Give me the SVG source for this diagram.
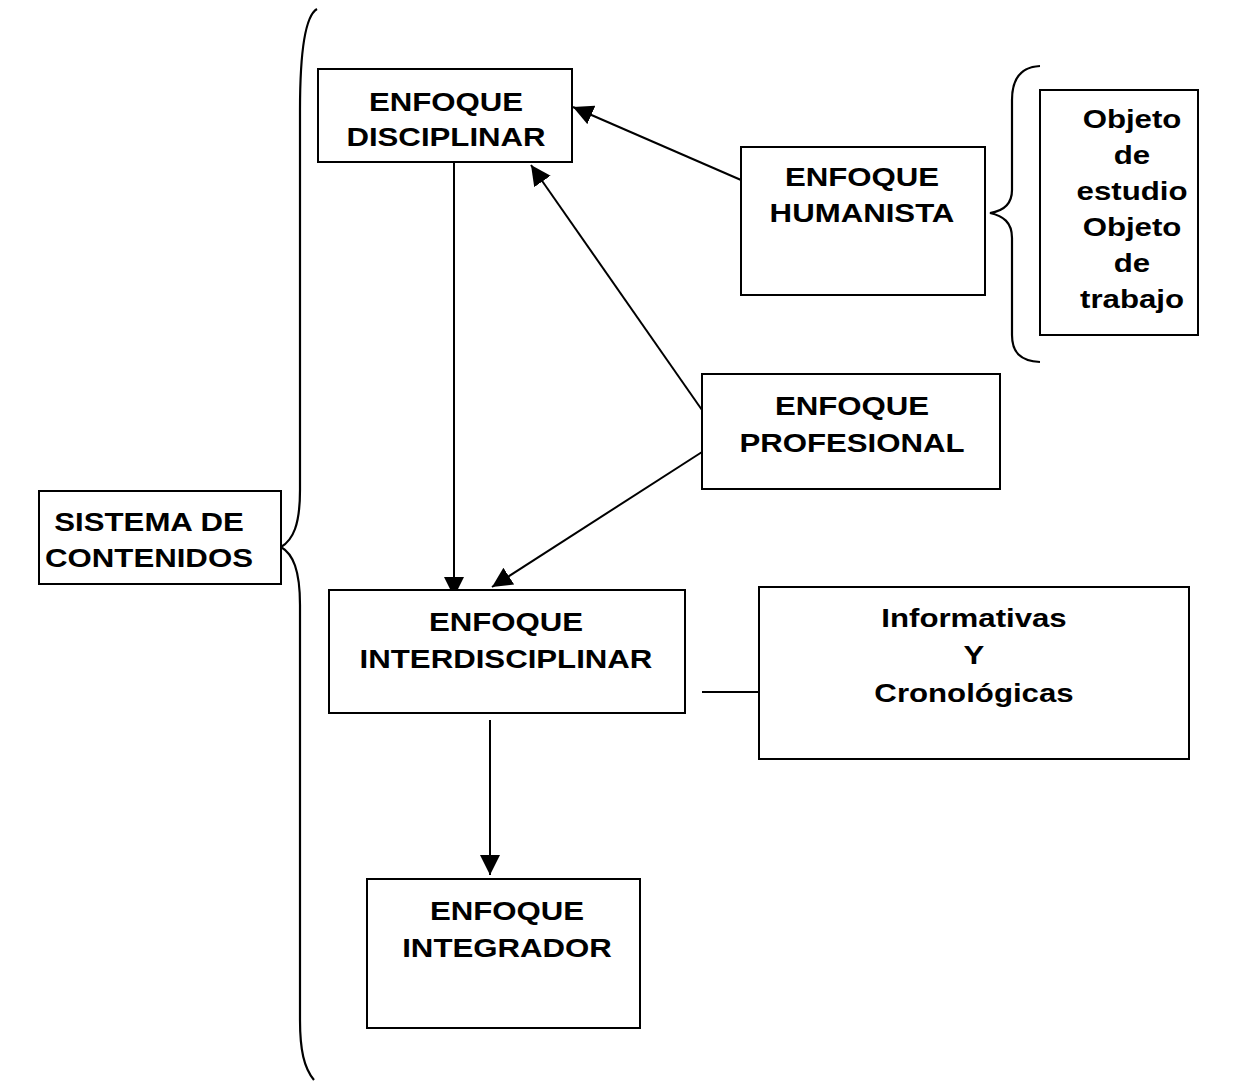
<svg xmlns="http://www.w3.org/2000/svg" width="1233" height="1082" viewBox="0 0 1233 1082">
  <style>
    .box { fill: #fff; stroke: #000; stroke-width: 2; }
    .lbl { font-family: "Liberation Sans", Arial, sans-serif; font-weight: bold; font-size: 26px; text-anchor: middle; fill: #000; }
    .edge { fill: none; stroke: #000; stroke-width: 2; }
    .brace { fill: none; stroke: #000; stroke-width: 2.2; }
  </style>
  <defs>
    <marker id="arrow" viewBox="0 0 20 20" refX="20" refY="10" markerWidth="20" markerHeight="20" markerUnits="userSpaceOnUse" orient="auto">
      <path d="M0,0 L20,10 L0,20 z" fill="#000"/>
    </marker>
  </defs>
  <rect width="1233" height="1082" fill="#fff"/>

  <!-- braces -->
  <path class="brace" d="M317,9 C305,16 300,55 300,110 L300,490 C300,525 293,540 281,547 C293,554 300,570 300,605 L300,1020 C300,1050 304,1068 314,1080"/>
  <path class="brace" d="M1040,66 C1020,67 1012,80 1012,100 L1012,190 C1012,204 1003,211 990,213 C1003,216 1012,222 1012,238 L1012,335 C1012,352 1020,361 1040,362"/>

  <!-- connectors -->
  <g id="connectors">
    <line class="edge" x1="454" y1="162" x2="454" y2="597" marker-end="url(#arrow)"/>
    <line class="edge" x1="741" y1="180" x2="573" y2="107" marker-end="url(#arrow)"/>
    <line class="edge" x1="702" y1="410" x2="531" y2="165" marker-end="url(#arrow)"/>
    <line class="edge" x1="702" y1="452" x2="492" y2="587" marker-end="url(#arrow)"/>
    <line class="edge" x1="490" y1="720" x2="490" y2="875" marker-end="url(#arrow)"/>
    <line class="edge" x1="702" y1="692" x2="759" y2="692"/>
  </g>

  <g id="sistema">
    <rect class="box" x="39" y="491" width="242" height="93"/>
    <text class="lbl" transform="translate(149,531) scale(1.2,1)"><tspan x="0" y="0">SISTEMA DE</tspan><tspan x="0" dy="36">CONTENIDOS</tspan></text>
  </g>

  <g id="disciplinar">
    <rect class="box" x="318" y="69" width="254" height="93"/>
    <text class="lbl" transform="translate(446,110.5) scale(1.2,1)"><tspan x="0" y="0">ENFOQUE</tspan><tspan x="0" dy="36">DISCIPLINAR</tspan></text>
  </g>

  <g id="humanista">
    <rect class="box" x="741" y="147" width="244" height="148"/>
    <text class="lbl" transform="translate(862,186) scale(1.2,1)"><tspan x="0" y="0">ENFOQUE</tspan><tspan x="0" dy="36">HUMANISTA</tspan></text>
  </g>

  <g id="objeto">
    <rect class="box" x="1040" y="90" width="158" height="245"/>
    <text class="lbl" transform="translate(1132,128) scale(1.2,1)"><tspan x="0" y="0">Objeto</tspan><tspan x="0" dy="36">de</tspan><tspan x="0" dy="36">estudio</tspan><tspan x="0" dy="36">Objeto</tspan><tspan x="0" dy="36">de</tspan><tspan x="0" dy="36">trabajo</tspan></text>
  </g>

  <g id="profesional">
    <rect class="box" x="702" y="374" width="298" height="115"/>
    <text class="lbl" transform="translate(852,415) scale(1.2,1)"><tspan x="0" y="0">ENFOQUE</tspan><tspan x="0" dy="37">PROFESIONAL</tspan></text>
  </g>

  <g id="interdisciplinar">
    <rect class="box" x="329" y="590" width="356" height="123"/>
    <text class="lbl" transform="translate(506,631) scale(1.2,1)"><tspan x="0" y="0">ENFOQUE</tspan><tspan x="0" dy="37">INTERDISCIPLINAR</tspan></text>
  </g>

  <g id="informativas">
    <rect class="box" x="759" y="587" width="430" height="172"/>
    <text class="lbl" transform="translate(974,627) scale(1.2,1)"><tspan x="0" y="0">Informativas</tspan><tspan x="0" dy="37">Y</tspan><tspan x="0" dy="38">Cronológicas</tspan></text>
  </g>

  <g id="integrador">
    <rect class="box" x="367" y="879" width="273" height="149"/>
    <text class="lbl" transform="translate(507,920) scale(1.2,1)"><tspan x="0" y="0">ENFOQUE</tspan><tspan x="0" dy="37">INTEGRADOR</tspan></text>
  </g>
</svg>
